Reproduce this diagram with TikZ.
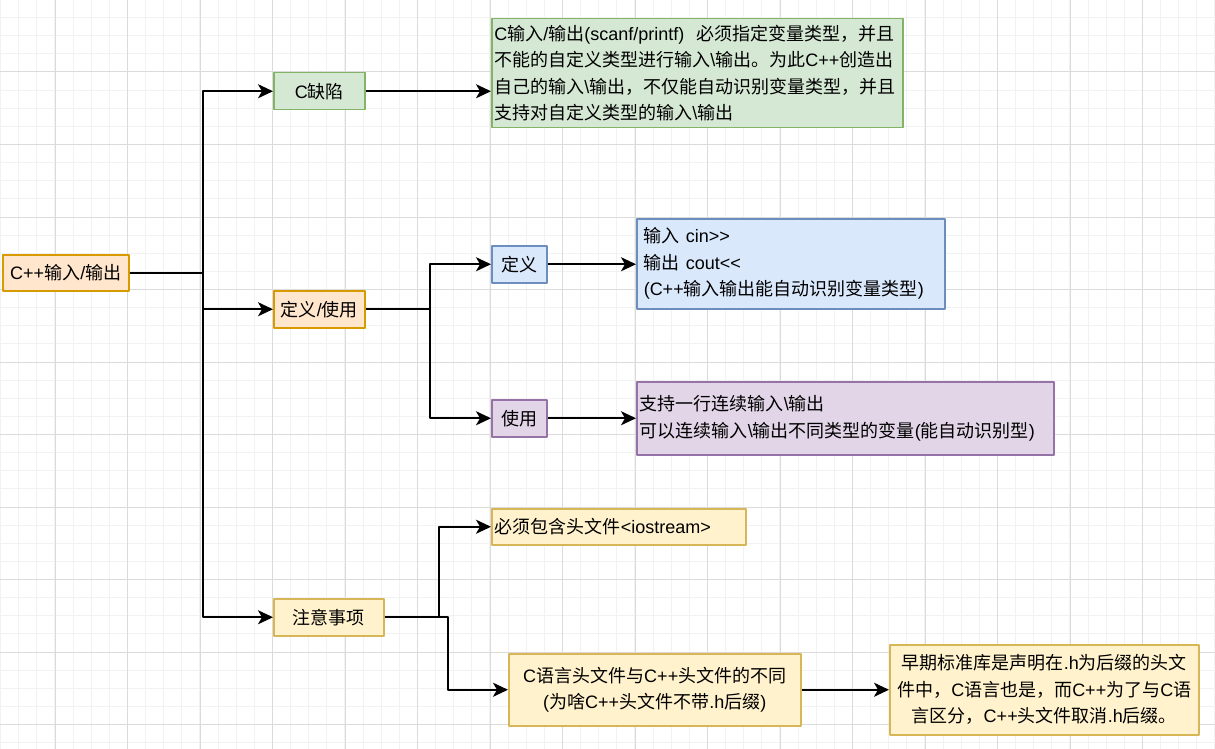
\documentclass[tikz,border=0pt]{standalone}
\usepackage{fontspec}
\setmainfont{Liberation Sans}
\newfontfamily\latfont{Liberation Sans}
\newfontfamily\cjkfont{Noto Sans CJK SC}
\XeTeXinterchartokenstate=1
\newXeTeXintercharclass\cjkclass
\newcount\cjkcount
\cjkcount="3000
\loop\ifnum\cjkcount<"A000 \XeTeXcharclass\cjkcount=\cjkclass \advance\cjkcount by 1 \repeat
\cjkcount="FF00
\loop\ifnum\cjkcount<"FFF0 \XeTeXcharclass\cjkcount=\cjkclass \advance\cjkcount by 1 \repeat
\XeTeXinterchartoks 0 \cjkclass={\cjkfont}
\XeTeXinterchartoks 4095 \cjkclass={\cjkfont}
\XeTeXinterchartoks \cjkclass 0={\latfont}
\XeTeXinterchartoks \cjkclass 4095={\latfont}
\usetikzlibrary{arrows.meta}
\definecolor{orfill}{HTML}{FFE6CC} \definecolor{ordraw}{HTML}{D79B00}
\definecolor{grfill}{HTML}{D5E8D4} \definecolor{grdraw}{HTML}{82B366}
\definecolor{blfill}{HTML}{DAE8FC} \definecolor{bldraw}{HTML}{6C8EBF}
\definecolor{pufill}{HTML}{E1D5E7} \definecolor{pudraw}{HTML}{9673A6}
\definecolor{yefill}{HTML}{FFF2CC} \definecolor{yedraw}{HTML}{D6B656}
\tikzset{
  box/.style={draw, rectangle, line width=1.5pt, inner sep=0pt, anchor=north west,
    font=\fontsize{18}{26.5}\selectfont\latfont},
  orangebox/.style={box, fill=orfill, draw=ordraw},
  greenbox/.style={box, fill=grfill, draw=grdraw},
  bluebox/.style={box, fill=blfill, draw=bldraw},
  purplebox/.style={box, fill=pufill, draw=pudraw},
  yellowbox/.style={box, fill=yefill, draw=yedraw},
  link/.style={line width=2pt, -{Stealth[length=15pt,width=14pt,inset=4pt]}},
  minorline/.style={draw=black!5, line width=1pt},
  majorline/.style={draw=black!14, line width=1pt}
}
\begin{document}
\begin{tikzpicture}[x=1pt, y=-1pt, line join=round]
\def \W{1215} \def \H{749}
\useasboundingbox (0,0) rectangle (\W,\H);
\fill[white] (0,0) rectangle (\W,\H);
\foreach \i in {1,...,41} \draw[minorline] (0,18.125*\i-0.5) -- (\W,18.125*\i-0.5);
\foreach \i in {0,...,67} \draw[minorline] (18.125*\i+0.6,0) -- (18.125*\i+0.6,\H);
\foreach \i in {1,...,10} \draw[majorline] (0,72.5*\i-0.5) -- (\W,72.5*\i-0.5);
\foreach \i in {0,...,15} \draw[majorline] (72.5*\i+55,0) -- (72.5*\i+55,\H);

\node[orangebox, minimum width=126, minimum height=36] (root) at (2,254) {C++输入/输出};
\node[greenbox, minimum width=91, minimum height=37] (defect) at (273,72) {C缺陷};
\node[orangebox, minimum width=91, minimum height=37] (use) at (273,290) {定义/使用};
\node[yellowbox, minimum width=110, minimum height=37] (notes) at (273,598) {注意事项};
\node[greenbox, minimum width=411, minimum height=109, inner xsep=2.5pt, text width=406, align=left] (cdesc) at (491,18)
  {C输入/输出(scanf/printf)~~必须指定变量类型，并且\\不能的自定义类型进行输入\textbackslash 输出。为此C++创造出\\自己的输入\textbackslash 输出，不仅能自动识别变量类型，并且\\支持对自定义类型的输入\textbackslash 输出};
\node[bluebox, minimum width=55, minimum height=37] (define) at (491,245) {定义};
\node[purplebox, minimum width=55, minimum height=37] (apply) at (491,399) {使用};
\node[bluebox, minimum width=308, minimum height=90, inner xsep=7pt, text width=294, align=left] (io) at (636,218)
  {输入~cin>>\\输出~cout<<\\(C++输入输出能自动识别变量类型)};
\node[purplebox, minimum width=417, minimum height=73, inner xsep=3pt, text width=411, align=left] (chain) at (636,381)
  {支持一行连续输入\textbackslash 输出\\可以连续输入\textbackslash 输出不同类型的变量(能自动识别型)};
\node[yellowbox, minimum width=254, minimum height=36, inner xsep=3pt, text width=248, align=left] (header) at (491,508)
  {必须包含头文件<iostream>};
\node[yellowbox, minimum width=292, minimum height=72, align=center] (diff) at (508,653)
  {C语言头文件与C++头文件的不同\\(为啥C++头文件不带.h后缀)};
\node[yellowbox, minimum width=309, minimum height=90, align=center] (history) at (889,644)
  {早期标准库是声明在.h为后缀的头文\\件中，C语言也是，而C++为了与C语\\言区分，C++头文件取消.h后缀。};

\draw[link] (root.east) -- ++(73,0) |- (defect.west);
\draw[link] (root.east) -- ++(73,0) |- (use.west);
\draw[link] (root.east) -- ++(73,0) |- (notes.west);
\draw[link] (defect.east) -- (cdesc.west |- defect.east);
\draw[link] (use.east) -- ++(64,0) |- (define.west);
\draw[link] (use.east) -- ++(64,0) |- (apply.west);
\draw[link] (define.east) -- (io.west |- define.east);
\draw[link] (apply.east) -- (chain.west |- apply.east);
\draw[link] (notes.east) -- ++(54,0) |- (header.west);
\draw[link] (notes.east) -- ++(63,0) |- (diff.west);
\draw[link] (diff.east) -- (history.west |- diff.east);
\end{tikzpicture}
\end{document}
